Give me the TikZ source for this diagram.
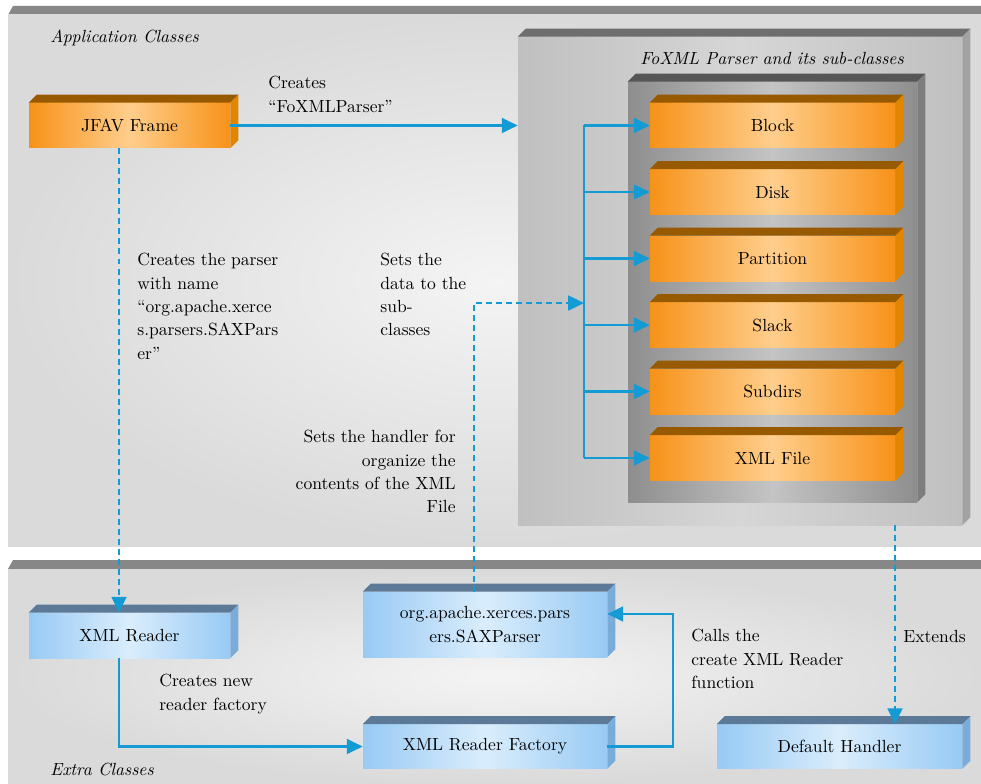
\documentclass[tikz,border=0pt]{standalone}
\usetikzlibrary{arrows.meta,calc}
\definecolor{arrblue}{RGB}{20,155,212}
\definecolor{orE}{RGB}{247,146,25}
\definecolor{orM}{RGB}{255,206,140}
\definecolor{orT}{RGB}{152,90,0}
\definecolor{orS}{RGB}{226,134,0}
\definecolor{buE}{RGB}{152,202,244}
\definecolor{buM}{RGB}{218,237,252}
\definecolor{buT}{RGB}{92,122,152}
\definecolor{buS}{RGB}{122,172,218}
\definecolor{paT}{RGB}{135,135,135}
\definecolor{paE}{RGB}{218,218,218}
\definecolor{paM}{RGB}{244,244,244}
\definecolor{ouE}{RGB}{192,192,192}
\definecolor{ouM}{RGB}{214,214,214}
\definecolor{ouT}{RGB}{110,110,110}
\definecolor{ouS}{RGB}{162,162,162}
\definecolor{inE}{RGB}{142,142,142}
\definecolor{inM}{RGB}{196,196,196}
\definecolor{inT}{RGB}{86,86,86}
\definecolor{inS}{RGB}{126,126,126}
\newcommand{\cubenode}[6]{%
  \node[#5front, minimum width=#3*0.02cm, minimum height=#4*0.02cm] (#1) at (#2) {#6};
  \fill[#5top] (#1.north west) -- ++(8,-8) -- ($(#1.north east)+(8,-8)$) -- (#1.north east) -- cycle;
  \fill[#5side] (#1.north east) -- ++(8,-8) -- ($(#1.south east)+(8,-8)$) -- (#1.south east) -- cycle;
}
\tikzset{
  orfront/.style={left color=orE, right color=orE, middle color=orM, inner sep=0pt, align=center},
  ortop/.style={fill=orT}, orside/.style={fill=orS},
  bufront/.style={left color=buE, right color=buE, middle color=buM, inner sep=0pt, align=center},
  butop/.style={fill=buT}, buside/.style={fill=buS},
  oufront/.style={left color=ouE, right color=ouE, middle color=ouM, inner sep=0pt},
  outop/.style={fill=ouT}, ouside/.style={fill=ouS},
  infront/.style={left color=inE, right color=inE, middle color=inM, inner sep=0pt},
  intop/.style={fill=inT}, inside/.style={fill=inS},
  arr/.style={draw=arrblue, line width=1.2pt, -{Triangle[length=9pt,width=8.5pt]}},
  plainline/.style={draw=arrblue, line width=1.2pt},
  dasharr/.style={arr, dash pattern=on 3.4pt off 2.3pt},
  lbl/.style={inner sep=0pt, align=left},
}
\begin{document}
\begin{tikzpicture}[x=0.02cm,y=-0.02cm,font=\fontsize{10}{13.3}\selectfont]
\useasboundingbox (0,0) rectangle (981,784);
\fill[white] (0,0) rectangle (981,784);
% panels
\fill[paT] (8,15) -- (13,6) -- (981,6) -- (981,15) -- cycle;
\fill[inner color=paM, outer color=paE] (8,15) rectangle (981,546);
\fill[paT] (8,569) -- (13,560) -- (981,560) -- (981,569) -- cycle;
\fill[inner color=paM, outer color=paE] (8,569) rectangle (981,784);
% FoXML boxes
\cubenode{outer}{740,281}{444}{488}{ou}{}
\cubenode{inner}{772.5,292}{289}{420}{in}{}
\cubenode{b1}{772.5,125.5}{245}{45}{or}{Block}
\cubenode{b2}{772.5,192}{245}{45}{or}{Disk}
\cubenode{b3}{772.5,258.5}{245}{45}{or}{Partition}
\cubenode{b4}{772.5,325}{245}{45}{or}{Slack}
\cubenode{b5}{772.5,391.5}{245}{45}{or}{Subdirs}
\cubenode{b6}{772.5,458}{245}{45}{or}{XML File}
\cubenode{jfav}{129.5,125.5}{201}{45}{or}{JFAV Frame}
% blue boxes
\cubenode{xmlr}{129.5,635.5}{201}{45}{bu}{XML Reader}
\cubenode{sax}{485,624.5}{244}{65}{bu}{org.apache.xerces.pars\\ers.SAXParser}
\cubenode{fac}{485,746.5}{244}{44}{bu}{XML Reader Factory}
\cubenode{dh}{839.5,746.5}{245}{44}{bu}{Default Handler}
% coordinates
\coordinate (trunk) at (584,125.5);
\coordinate (setdata) at (584,303);
% connectors
\draw[arr] (jfav.east) -- (jfav.east -| outer.west);
\draw[plainline] (trunk |- b1.west) -- (trunk |- b6.west);
\foreach \b in {b1,b2,b3,b4,b5,b6}{\draw[arr] (trunk |- \b.west) -- (\b.west);}
\draw[dasharr] ([xshift=-0.22cm]sax.north) |- (setdata);
\draw[dasharr] ([xshift=-0.21cm]jfav.south) -- ([xshift=-0.21cm]xmlr.north);
\draw[arr] ([xshift=-0.21cm]xmlr.south) |- (fac.west);
\draw[arr] (fac.east) -- ++(66,0) |- ([yshift=0.21cm]sax.east);
\draw[dasharr] ([xshift=1.11cm]dh.north |- outer.south) -- ([xshift=1.11cm]dh.north);
% labels
\node[lbl, anchor=base west] (lapp) at (50,43) {\itshape Application Classes};
\node[lbl, anchor=base] (ltitle) at (772,65) {\itshape FoXML Parser and its sub-classes};
\node[lbl, anchor=base west] (lextra) at (50,775) {\itshape Extra Classes};
\node[lbl, anchor=north west] (lcreates) at (268,76) {Creates\\``FoXMLParser''};
\node[lbl, anchor=north west] (lparser) at (137,253) {Creates the parser\\with name\\``org.apache.xerce\\s.parsers.SAXPars\\er''};
\node[lbl, anchor=north west] (lsets) at (380,253) {Sets the\\data to the\\sub-\\classes};
\node[lbl, anchor=north east, align=right] (lhandler) at (456,430) {Sets the handler for\\organize the\\contents of the XML\\File};
\node[lbl, anchor=north west] (lnew) at (159,674) {Creates new\\reader factory};
\node[lbl, anchor=north west] (lcalls) at (691,629) {Calls the\\create XML Reader\\function};
\node[lbl, anchor=base west] (lext) at (903,642) {Extends};
\end{tikzpicture}
\end{document}
